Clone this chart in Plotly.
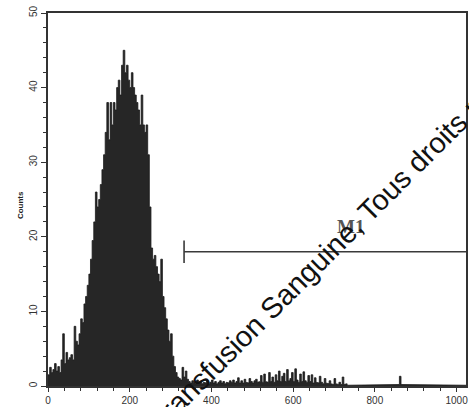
import plotly.graph_objects as go

# 4-channel bins, channel 0..1023
bin_width = 4
counts = [
    1.5, 2.5, 1.8, 2.2, 3.0, 2.0, 2.6, 1.8, 3.5, 7.0, 3.0, 4.5, 3.5, 3.8, 4.2, 3.5,
    8.0, 6.0, 5.5, 7.0, 9.0, 8.5, 11.0, 12.0, 13.5, 15.0, 17.0, 19.5, 22.0, 26.0, 24.0, 25.0,
    27, 29, 31, 34, 38, 33, 38, 35, 38, 37, 40, 41, 39, 43, 45, 42,
    43, 41, 40, 42, 40, 39, 38, 37, 35, 39, 35, 34, 35, 31, 24, 18.5,
    17, 17.5, 16, 15, 14, 17, 12, 10.5, 9, 7.5, 6, 7, 4, 2.6, 1.8, 1.2,
    1.0, 0.8, 2.5, 1.2, 2.0, 0.9, 0.6, 0.4, 0.7, 0.5, 0.3, 0.8, 0.4, 0.6, 0.3, 0.5,
    0.4, 0.7, 0.3, 0.5, 0.8, 0.4, 0.6, 0.3, 0.5, 0.7, 0.4, 0.6, 0.3, 0.5, 0.4, 0.7,
    0.5, 0.8, 0.4, 0.6, 1.1, 0.4, 0.7, 0.4, 0.9, 0.5, 0.4, 1.0, 0.6, 0.4, 0.7, 0.9,
    0.5, 0.6, 1.4, 0.5, 1.6, 0.6, 0.5, 1.8, 0.6, 1.2, 0.5, 1.5, 0.7, 2.0, 0.6, 1.3,
    1.7, 0.6, 2.2, 0.7, 1.0, 1.8, 0.6, 2.3, 0.8, 0.5, 1.6, 0.6, 1.9, 0.7, 0.5, 1.4,
    0.6, 1.5, 0.4, 1.1, 0.5, 0.4, 1.3, 0.5, 0.3, 1.0, 0.4, 0.3, 0.7, 0.3, 0.2, 1.0,
    0.3, 0.2, 0.5, 0.2, 1.2, 0.2, 0.3, 0.1, 0.2, 0.1, 0.2, 0.1, 0.2, 0.1, 0.2, 0.1,
    0.1, 0.1, 0.2, 0.1, 0.1, 0.1, 0.2, 0.1, 0.1, 0.1, 0.2, 0.1, 0.1, 0.1, 0.2, 0.1,
    0.1, 0.1, 0.2, 0.1, 0.1, 0.1, 0.2, 1.3, 0.2, 0.1, 0.1, 0.1, 0.2, 0.1, 0.1, 0.1,
    0.1, 0.1, 0.2, 0.1, 0.1, 0.1, 0.2, 0.1, 0.1, 0.1, 0.2, 0.1, 0.1, 0.1, 0.2, 0.1,
    0.1, 0.1, 0.2, 0.1, 0.1, 0.1, 0.2, 0.1, 0.1, 0.1, 0.2, 0.1, 0.1, 0.1, 0.2, 0.1,
]
channels = [i * bin_width for i in range(len(counts))]

x_ticks = [0, 200, 400, 600, 800, 1000]
y_ticks = [0, 10, 20, 30, 40, 50]

gate_name = "M1"
gate_start = 333
gate_end = 1023
gate_level = 18

y_label = "Counts"
watermark = "Transfusion Sanguine, Tous droits réservés"

# step outline of histogram
sx, sy = [], []
for c, v in zip(channels, counts):
    sx += [c, c + bin_width]
    sy += [v, v]

fig = go.Figure()
fig.add_trace(go.Scatter(
    x=sx, y=sy, mode="lines", fill="tozeroy",
    line=dict(color="#1c1c1c", width=0.8),
    fillcolor="#262626", hoverinfo="skip", showlegend=False,
))

# gate marker
fig.add_trace(go.Scatter(
    x=[gate_start, gate_end], y=[gate_level, gate_level], mode="lines",
    line=dict(color="#3a3a3a", width=1.6), showlegend=False, hoverinfo="skip",
))
fig.add_trace(go.Scatter(
    x=[gate_start, gate_start], y=[gate_level - 1.5, gate_level + 1.5], mode="lines",
    line=dict(color="#3a3a3a", width=1.6), showlegend=False, hoverinfo="skip",
))

fig.add_annotation(
    x=741, y=gate_level + 3.4, text="<b>" + gate_name + "</b>", showarrow=False,
    xanchor="center", yanchor="middle",
    font=dict(family="Liberation Serif", size=19, color="#555"),
)
fig.add_annotation(
    xref="paper", yref="paper", x=-0.067, y=0.485, text="<b>" + y_label + "</b>", textangle=-90,
    xanchor="center", yanchor="middle",
    showarrow=False, font=dict(family="Liberation Sans", size=8, color="#222"),
)
fig.add_annotation(
    x=738, y=20.9, text=watermark, textangle=-45, showarrow=False,
    xanchor="center", yanchor="middle",
    font=dict(family="Liberation Sans", size=29, color="#111"),
)

fig.update_layout(
    width=469, height=407,
    margin=dict(l=48, r=1, t=13, b=17),
    paper_bgcolor="white", plot_bgcolor="white",
    showlegend=False,
    xaxis=dict(
        range=[0, 1023], tickvals=x_ticks, ticks="outside", ticklen=4,
        tickcolor="#333", tickwidth=1.2,
        showline=True, mirror=True, linecolor="#333", linewidth=1.6,
        showgrid=False, zeroline=False,
        tickfont=dict(family="Liberation Sans", size=10, color="#333"),
        minor=dict(dtick=40, tick0=0, ticks="outside", ticklen=3, tickcolor="#333"),
    ),
    yaxis=dict(
        range=[0, 50], tickvals=y_ticks, ticks="outside", ticklen=5,
        tickcolor="#333", tickwidth=1.2, tickangle=-90,
        showline=True, mirror=True, linecolor="#333", linewidth=1.6,
        showgrid=False, zeroline=False,
        tickfont=dict(family="Liberation Sans", size=10, color="#333"),
        minor=dict(dtick=2, tick0=0, ticks="outside", ticklen=3, tickcolor="#333"),
    ),
)

fig.write_html(
    "out.html",
    config={"displayModeBar": False},
    post_script="document.body.style.margin='0px';",
)
